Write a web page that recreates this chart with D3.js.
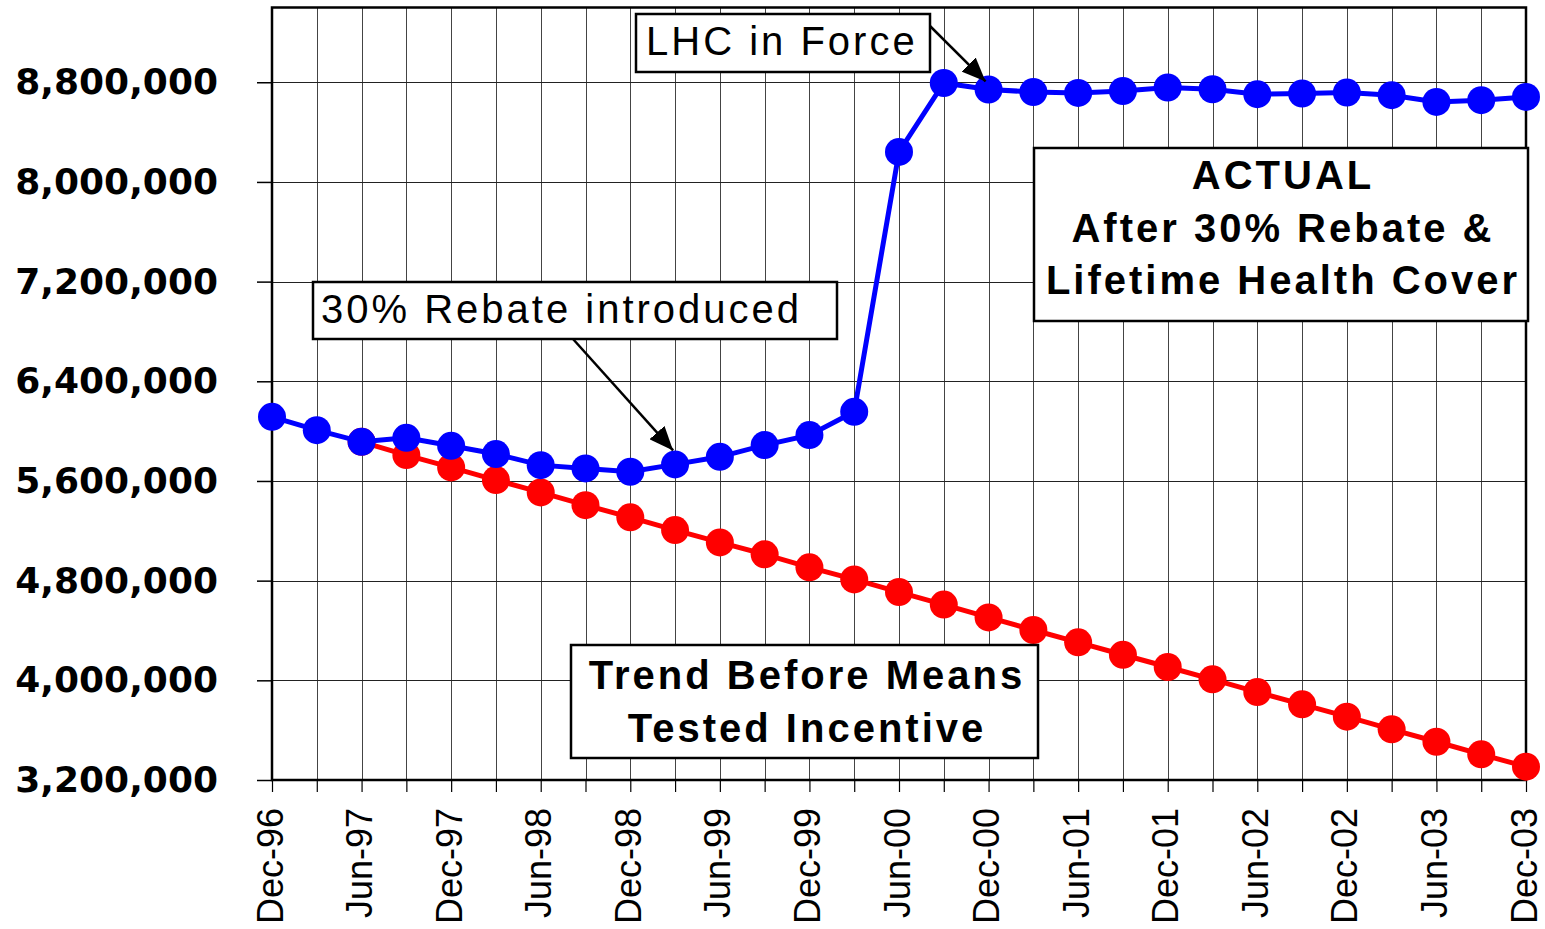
<!DOCTYPE html>
<html>
  <head>
    <meta charset="utf-8" />
    <script src="https://d3js.org/d3.v7.min.js"></script>
    <title>Private health insurance coverage</title>
    <style>
      body { margin: 0; background: #fff; }
      .ylab text { font-family: "DejaVu Sans", Verdana, sans-serif; font-weight: bold; font-size: 36px; fill: #000; }
      .xlab text { font-family: "Liberation Sans", Arial, sans-serif; font-size: 36px; fill: #000; }
      .note { font-family: "Liberation Sans", Arial, sans-serif; font-size: 40px; letter-spacing: 3px; fill: #000; }
      .note.bold { font-weight: bold; }
      .box { fill: #fff; stroke: #000; stroke-width: 2.5px; }
    </style>
  </head>
  <body>

    <svg id="chart" width="1545" height="929"></svg>

    <script>

      // quarterly, Dec-96 .. Dec-03
      var quarters = [
        "Dec-96", "Mar-97", "Jun-97", "Sep-97", "Dec-97", "Mar-98", "Jun-98", "Sep-98",
        "Dec-98", "Mar-99", "Jun-99", "Sep-99", "Dec-99", "Mar-00", "Jun-00", "Sep-00",
        "Dec-00", "Mar-01", "Jun-01", "Sep-01", "Dec-01", "Mar-02", "Jun-02", "Sep-02",
        "Dec-02", "Mar-03", "Jun-03", "Sep-03", "Dec-03"
      ];

      var actual = [
        6115000, 6008000, 5914000, 5946000, 5882000, 5816000, 5727000, 5701000,
        5674000, 5733000, 5794000, 5888000, 5968000, 6155000, 8241000, 8794000,
        8742000, 8722000, 8714000, 8730000, 8758000, 8744000, 8704000, 8709000,
        8717000, 8696000, 8642000, 8656000, 8682000
      ];

      // trend line only starts at Jun-97
      var trend = [
        null, null, 5914000, 5808000, 5709000, 5607000, 5508000, 5406000,
        5308000, 5206000, 5107000, 5011000, 4907000, 4810000, 4708000, 4608000,
        4505000, 4404000, 4305000, 4205000, 4107000, 4008000, 3906000, 3807000,
        3708000, 3607000, 3507000, 3406000, 3307000
      ];

      var yTicks = [3200000, 4000000, 4800000, 5600000, 6400000, 7200000, 8000000, 8800000];

      var plotLeft = 272, plotRight = 1526, plotTop = 7.5, plotBottom = 780;

      var svg = d3.select("#chart");

      var x = d3.scaleLinear()
        .domain([0, quarters.length - 1])
        .range([plotLeft, plotRight]);

      var y = d3.scaleLinear()
        .domain([3200000, 9400000])
        .range([plotBottom, plotTop]);

      // grid
      svg.append("g").selectAll("line")
        .data(d3.range(quarters.length))
        .enter().append("line")
        .attr("x1", function(d) { return Math.round(x(d)) + 0.5; })
        .attr("x2", function(d) { return Math.round(x(d)) + 0.5; })
        .attr("y1", plotTop)
        .attr("y2", plotBottom)
        .attr("stroke", "#444")
        .attr("stroke-width", 1);

      svg.append("g").selectAll("line")
        .data(yTicks)
        .enter().append("line")
        .attr("x1", plotLeft)
        .attr("x2", plotRight)
        .attr("y1", function(d) { return Math.round(y(d)) + 0.5; })
        .attr("y2", function(d) { return Math.round(y(d)) + 0.5; })
        .attr("stroke", "#222")
        .attr("stroke-width", 1);

      // axes
      var yAxis = svg.append("g")
        .attr("class", "ylab")
        .attr("transform", "translate(" + plotLeft + ",0)")
        .call(d3.axisLeft(y)
          .tickValues(yTicks)
          .tickSize(15)
          .tickPadding(39)
          .tickFormat(d3.format(",")));
      yAxis.select(".domain").remove();
      yAxis.selectAll("line").attr("stroke", "#000").attr("stroke-width", 1.5);
      yAxis.selectAll("text").attr("font-size", null).attr("font-family", null);

      var xAxis = svg.append("g")
        .attr("class", "xlab")
        .attr("transform", "translate(0," + plotBottom + ")")
        .call(d3.axisBottom(x)
          .tickValues(d3.range(quarters.length))
          .tickSize(12)
          .tickFormat(function(i) { return i % 2 === 0 ? quarters[i] : ""; }));
      xAxis.select(".domain").remove();
      xAxis.selectAll("line").attr("stroke", "#000").attr("stroke-width", 1.2);
      xAxis.selectAll("text")
        .attr("font-size", null).attr("font-family", null)
        .attr("transform", "rotate(-90)")
        .attr("text-anchor", "end")
        .attr("x", -28)
        .attr("y", 10)
        .attr("dy", 0);

      // plot frame
      svg.append("rect")
        .attr("x", plotLeft)
        .attr("y", plotTop)
        .attr("width", plotRight - plotLeft)
        .attr("height", plotBottom - plotTop)
        .attr("fill", "none")
        .attr("stroke", "#000")
        .attr("stroke-width", 2.5);

      // series
      var line = d3.line()
        .defined(function(d) { return d !== null; })
        .x(function(d, i) { return x(i); })
        .y(function(d) { return y(d); });

      function drawSeries(values, colour) {
        svg.append("path")
          .datum(values)
          .attr("fill", "none")
          .attr("stroke", colour)
          .attr("stroke-width", 5)
          .attr("d", line);

        svg.append("g").selectAll("circle")
          .data(values.map(function(v, i) { return { i: i, v: v }; })
            .filter(function(d) { return d.v !== null; }))
          .enter().append("circle")
          .attr("cx", function(d) { return x(d.i); })
          .attr("cy", function(d) { return y(d.v); })
          .attr("r", 14)
          .attr("fill", colour);
      }

      drawSeries(trend, "#ff0000");
      drawSeries(actual, "#0000ff");

      // arrows
      svg.append("defs").append("marker")
        .attr("id", "head")
        .attr("markerUnits", "userSpaceOnUse")
        .attr("viewBox", "0 0 24 20")
        .attr("refX", 24)
        .attr("refY", 10)
        .attr("markerWidth", 24)
        .attr("markerHeight", 20)
        .attr("orient", "auto")
        .append("path")
        .attr("d", "M0,0 L24,10 L0,20 Z")
        .attr("fill", "#000");

      function arrow(x1, y1, idx, dx, dy) {
        svg.append("line")
          .attr("x1", x1)
          .attr("y1", y1)
          .attr("x2", x(idx) + dx)
          .attr("y2", y(actual[idx]) + dy)
          .attr("stroke", "#000")
          .attr("stroke-width", 2.5)
          .attr("marker-end", "url(#head)");
      }

      arrow(930, 26, 16, -3, -8);
      arrow(573, 339, 9, -2, -14);

      // annotation boxes
      function note(bx, by, bw, bh, lines, cls, anchor) {
        svg.append("rect")
          .attr("class", "box")
          .attr("x", bx)
          .attr("y", by)
          .attr("width", bw)
          .attr("height", bh);
        lines.forEach(function(l) {
          svg.append("text")
            .attr("class", cls)
            .attr("x", l[0])
            .attr("y", l[1])
            .attr("text-anchor", anchor)
            .text(l[2]);
        });
      }

      note(636, 14, 294, 58, [[646, 55, "LHC in Force"]], "note", "start");
      note(313, 282, 524, 57, [[321, 323, "30% Rebate introduced"]], "note", "start");
      note(1034, 148, 494, 173, [
        [1283, 189, "ACTUAL"],
        [1283, 242, "After 30% Rebate &"],
        [1283, 294, "Lifetime Health Cover"]
      ], "note bold", "middle");
      note(571, 645, 467, 113, [
        [807, 689, "Trend Before Means"],
        [807, 742, "Tested Incentive"]
      ], "note bold", "middle");

    </script>

  </body>
</html>
